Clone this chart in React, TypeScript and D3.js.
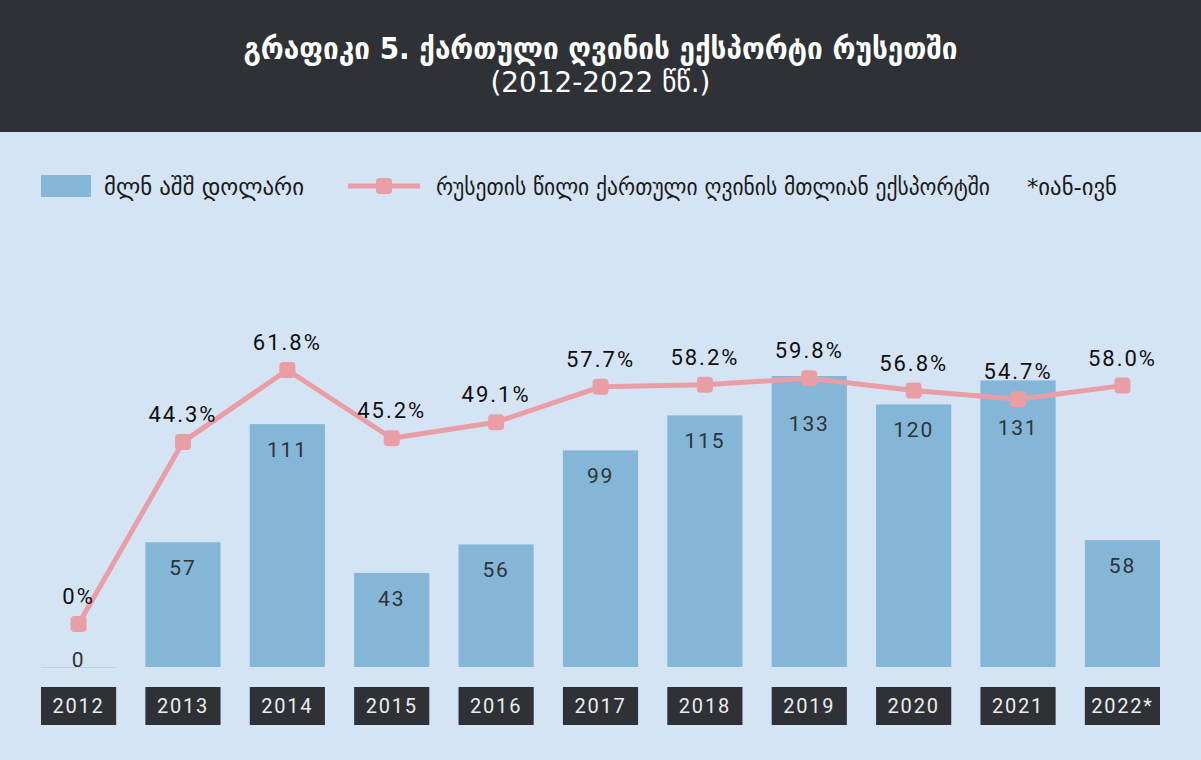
import React from 'react'
import * as d3 from 'd3'

const years = ['2012', '2013', '2014', '2015', '2016', '2017', '2018', '2019', '2020', '2021', '2022*']
const exportsUsd = [0, 57, 111, 43, 56, 99, 115, 133, 120, 131, 58]
const russiaShare = [0, 44.3, 61.8, 45.2, 49.1, 57.7, 58.2, 59.8, 56.8, 54.7, 58.0]

const TITLE = 'გრაფიკი 5. ქართული ღვინის ექსპორტი რუსეთში'
const SUBTITLE = '(2012-2022 წწ.)'
const LEGEND_BAR = 'მლნ აშშ დოლარი'
const LEGEND_LINE = 'რუსეთის წილი ქართული ღვინის მთლიან ექსპორტში'
const NOTE = '*იან-ივნ'

const W = 1201
const H = 760
const HEADER_H = 132
const BASE_Y = 667
const BAR_C = '#84b6d8'
const LINE_C = '#e89ea4'
const DARK = '#2e3136'
const BG = '#d4e4f4'
const GEO = '"DejaVu Sans Condensed", "DejaVu Sans", sans-serif'
const NUM = 'Roboto, "DejaVu Sans", sans-serif'

export default function App() {
  const svgRef = React.useRef<SVGSVGElement>(null)

  React.useEffect(() => {
    document.body.style.margin = '0'
    const svg = d3.select(svgRef.current!)
    svg.selectAll('*').remove()

    svg.append('rect').attr('width', W).attr('height', H).attr('fill', BG)
    svg.append('rect').attr('width', W).attr('height', HEADER_H).attr('fill', DARK)

    // header
    svg.append('text').attr('x', W / 2).attr('y', 59).attr('text-anchor', 'middle')
      .attr('fill', '#fff').attr('font-family', GEO).attr('font-weight', 700).attr('font-size', 31)
      .attr('textLength', 714).attr('lengthAdjust', 'spacingAndGlyphs')
      .text(TITLE)
    svg.append('text').attr('x', W / 2).attr('y', 92).attr('text-anchor', 'middle')
      .attr('fill', '#fff').attr('font-family', GEO).attr('font-size', 29).attr('font-weight', 300)
      .attr('textLength', 220).attr('lengthAdjust', 'spacingAndGlyphs')
      .text(SUBTITLE)

    // legend
    const lg = svg.append('g').attr('font-family', GEO).attr('font-size', 23).attr('fill', '#1a1a1a')
    lg.append('rect').attr('x', 41).attr('y', 175).attr('width', 50).attr('height', 22).attr('fill', BAR_C)
    lg.append('text').attr('x', 104).attr('y', 195).attr('textLength', 200).attr('lengthAdjust', 'spacingAndGlyphs')
      .text(LEGEND_BAR)
    lg.append('line').attr('x1', 348).attr('x2', 420).attr('y1', 186).attr('y2', 186)
      .attr('stroke', LINE_C).attr('stroke-width', 5)
    lg.append('rect').attr('x', 376).attr('y', 178).attr('width', 16).attr('height', 16).attr('rx', 4)
      .attr('fill', LINE_C)
    lg.append('text').attr('x', 436).attr('y', 195).attr('textLength', 554).attr('lengthAdjust', 'spacingAndGlyphs')
      .text(LEGEND_LINE)
    lg.append('text').attr('x', 1027).attr('y', 195).attr('textLength', 90).attr('lengthAdjust', 'spacingAndGlyphs')
      .text(NOTE)

    const x = d3.scaleBand<string>().domain(years).range([41, 1160]).paddingInner(0.28).paddingOuter(0)
    const yBar = d3.scaleLinear().domain([0, 140]).range([BASE_Y, BASE_Y - 140 * 2.188])
    const yPct = d3.scaleLinear().domain([0, 70]).range([624, 624 - 70 * 4.11])
    const cx = (i: number) => x(years[i])! + x.bandwidth() / 2

    // bars
    const bars = svg.append('g')
    years.forEach((yr, i) => {
      const v = exportsUsd[i]
      if (v === 0) {
        bars.append('line').attr('x1', x(yr)!).attr('x2', x(yr)! + x.bandwidth())
          .attr('y1', BASE_Y + 0.5).attr('y2', BASE_Y + 0.5).attr('stroke', '#b9d3e8').attr('stroke-width', 1)
      } else {
        bars.append('rect').attr('x', x(yr)!).attr('y', yBar(v)).attr('width', x.bandwidth())
          .attr('height', BASE_Y - yBar(v)).attr('fill', BAR_C)
      }
    })

    // bar value labels (pushed below the marker where the line crosses the bar top)
    years.forEach((yr, i) => {
      const v = exportsUsd[i]
      const top = yBar(v)
      const ly = yPct(russiaShare[i])
      const overlap = v > 0 && ly > top - 8 && ly < top + 30
      const cy = v === 0 ? BASE_Y - 8 : overlap ? top + 47 : top + 25
      svg.append('text').attr('x', cx(i)).attr('y', cy + 8).attr('text-anchor', 'middle')
        .attr('font-family', NUM).attr('font-size', 21).attr('letter-spacing', 1.8).attr('fill', '#2f3236')
        .text(String(v))
    })

    // line
    const line = d3.line<number>().x((_, i) => cx(i)).y(d => yPct(d))
    svg.append('path').datum(russiaShare).attr('d', line).attr('fill', 'none')
      .attr('stroke', LINE_C).attr('stroke-width', 5).attr('stroke-linejoin', 'round')
    svg.append('g').selectAll('rect').data(russiaShare).join('rect')
      .attr('x', (_, i) => cx(i) - 8).attr('y', d => yPct(d) - 8)
      .attr('width', 16).attr('height', 16).attr('rx', 4).attr('fill', LINE_C)

    // percent labels
    svg.append('g').selectAll('text').data(russiaShare).join('text')
      .attr('x', (_, i) => cx(i)).attr('y', d => yPct(d) - 20)
      .attr('text-anchor', 'middle').attr('font-family', NUM).attr('font-size', 22).attr('font-weight', 400)
      .attr('letter-spacing', 2).attr('fill', '#0f0f0f')
      .text(d => (d === 0 ? '0%' : d.toFixed(1) + '%'))

    // year boxes
    const ax = svg.append('g')
    years.forEach(yr => {
      ax.append('rect').attr('x', x(yr)!).attr('y', 687).attr('width', x.bandwidth()).attr('height', 38).attr('fill', DARK)
      ax.append('text').attr('x', x(yr)! + x.bandwidth() / 2).attr('y', 713).attr('text-anchor', 'middle')
        .attr('font-family', NUM).attr('font-size', 20).attr('letter-spacing', 1.8).attr('fill', '#ececec')
        .text(yr)
    })
  }, [])

  return <svg ref={svgRef} width={W} height={H} style={{ display: 'block' }} />
}
